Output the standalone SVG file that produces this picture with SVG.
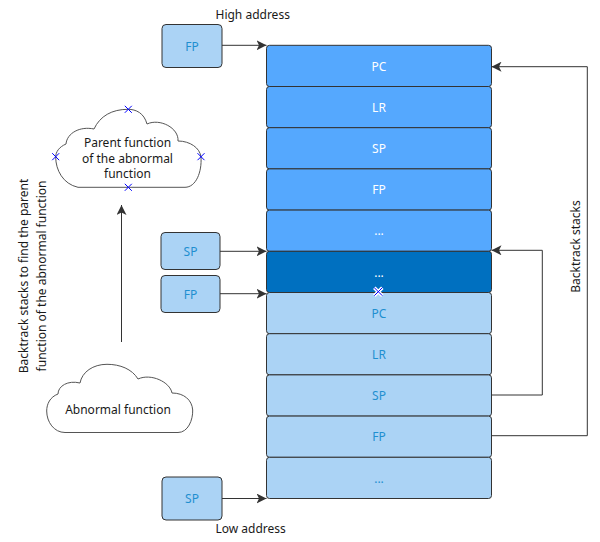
<svg xmlns="http://www.w3.org/2000/svg" width="600" height="542" viewBox="0 0 600 542">
<style>
text{font-family:"Noto Sans","Open Sans","DejaVu Sans",sans-serif;font-size:12px}
.row{stroke:#333;stroke-width:1}
.dk{fill:#55A8FE}
.dd{fill:#0070C0}
.lt{fill:#ABD3F5}
.wt{fill:#fff;text-anchor:middle}
.bt{fill:#1F8FD0;text-anchor:middle}
.ptr{fill:#ABD3F5;stroke:#333;stroke-width:1}
.ln{fill:none;stroke:#333;stroke-width:1}
.cl{fill:#fff;stroke:#555;stroke-width:1}
.tx{fill:#1a1a1a}
.mk{stroke:#0000FF;stroke-width:1;fill:none}
</style>
<defs>
<marker id="ah" viewBox="0 0 10 10" refX="10" refY="5" markerWidth="10" markerHeight="10" markerUnits="userSpaceOnUse" orient="auto">
<path d="M0,0 L10,5 L0,10 L2.5,5 Z" fill="#333"/>
</marker>
</defs>

<text x="215.5" y="18.5" class="tx">High address</text>
<text x="215.5" y="533" class="tx">Low address</text>

<g id="stack">
<g id="row1"><rect class="row dk" x="266.5" y="45.3" width="225" height="41.2" rx="3"/><text class="wt" x="379" y="70.5">PC</text></g>
<g id="row2"><rect class="row dk" x="266.5" y="86.5" width="225" height="41.2" rx="3"/><text class="wt" x="379" y="111.7">LR</text></g>
<g id="row3"><rect class="row dk" x="266.5" y="127.7" width="225" height="41.2" rx="3"/><text class="wt" x="379" y="152.9">SP</text></g>
<g id="row4"><rect class="row dk" x="266.5" y="168.9" width="225" height="41.2" rx="3"/><text class="wt" x="379" y="194.1">FP</text></g>
<g id="row5"><rect class="row dk" x="266.5" y="210.1" width="225" height="41.2" rx="3"/><text class="wt" x="379" y="235.3">...</text></g>
<g id="row6"><rect class="row dd" x="266.5" y="251.3" width="225" height="41.2" rx="3"/><text class="wt" x="379" y="276.5">...</text></g>
<g id="row7"><rect class="row lt" x="266.5" y="292.5" width="225" height="41.2" rx="3"/><text class="bt" x="379" y="317.7">PC</text></g>
<g id="row8"><rect class="row lt" x="266.5" y="333.7" width="225" height="41.2" rx="3"/><text class="bt" x="379" y="358.9">LR</text></g>
<g id="row9"><rect class="row lt" x="266.5" y="374.9" width="225" height="41.2" rx="3"/><text class="bt" x="379" y="400.1">SP</text></g>
<g id="row10"><rect class="row lt" x="266.5" y="416.1" width="225" height="41.2" rx="3"/><text class="bt" x="379" y="441.3">FP</text></g>
<g id="row11"><rect class="row lt" x="266.5" y="457.3" width="225" height="41.2" rx="3"/><text class="bt" x="379" y="482.5">...</text></g>
</g>

<g id="fp-top"><rect class="ptr" x="162" y="24.5" width="60" height="43" rx="4"/><text class="bt" x="192" y="50.5">FP</text></g>
<g id="sp-mid"><rect class="ptr" x="161" y="232.5" width="59" height="37" rx="4"/><text class="bt" x="190.5" y="255.5">SP</text></g>
<g id="fp-mid"><rect class="ptr" x="161" y="275.5" width="59" height="37" rx="4"/><text class="bt" x="190.5" y="298.5">FP</text></g>
<g id="sp-bot"><rect class="ptr" x="162" y="477" width="60" height="43" rx="4"/><text class="bt" x="192" y="503">SP</text></g>

<g id="parent-cloud">
<path class="cl" d="M78 187.3 L185 187.3 C196 187.3 202 172 201 157 C200 148 190 141 178 141 C179 128 160 118 147 124 C144 113 136 109.3 128 109.3 C112 109.3 100 116 94 129 C80 126 67 133 66 144 C59 147 55.7 152 55.7 157 C55.7 170 63 184 78 187.3 Z"/>
<text class="tx" text-anchor="middle" x="127.5" y="146.5">Parent function</text>
<text class="tx" text-anchor="middle" x="127.5" y="162.5">of the abnormal</text>
<text class="tx" text-anchor="middle" x="127.5" y="178">function</text>
</g>

<g id="abnormal-cloud">
<path class="cl" d="M65 432.5 L178 432.5 C188 432.5 193 420 192.7 410 C192 400 184 393 172 393 C170 382 151 373 138 379 C132 369 120 364.3 107 364.3 C93 364.3 82 372 80 383 C68 380 58 386 58 394 C50 397 46.7 404 46.7 411 C46.7 422 54 432.5 65 432.5 Z"/>
<text class="tx" text-anchor="middle" x="118" y="414">Abnormal function</text>
</g>

<g id="connectors">
<line class="ln" x1="222" y1="45.3" x2="266.5" y2="45.3" marker-end="url(#ah)"/>
<line class="ln" x1="220" y1="251.3" x2="266.5" y2="251.3" marker-end="url(#ah)"/>
<line class="ln" x1="220" y1="293.7" x2="266.5" y2="293.7" marker-end="url(#ah)"/>
<line class="ln" x1="222" y1="498.5" x2="266.5" y2="498.5" marker-end="url(#ah)"/>
<polyline class="ln" points="491.5,395 542.3,395 542.3,250.3 491.5,250.3" marker-end="url(#ah)"/>
<polyline class="ln" points="491.5,435.7 587.3,435.7 587.3,66.7 491.5,66.7" marker-end="url(#ah)"/>
<line class="ln" x1="121.5" y1="342" x2="121.5" y2="205" marker-end="url(#ah)"/>
</g>

<text class="tx" text-anchor="middle" transform="translate(580,246.5) rotate(-90)">Backtrack stacks</text>
<text class="tx" text-anchor="middle" transform="translate(28,276) rotate(-90)">Backtrack stacks to find the parent</text>
<text class="tx" text-anchor="middle" transform="translate(45.5,276) rotate(-90)">function of the abnormal function</text>

<g id="markers">
<path class="mk" d="M124.8 105.8 L131.8 112.8 M131.8 105.8 L124.8 112.8"/>
<path class="mk" d="M52.2 153.2 L59.2 160.2 M59.2 153.2 L52.2 160.2"/>
<path class="mk" d="M197.5 153.2 L204.5 160.2 M204.5 153.2 L197.5 160.2"/>
<path class="mk" d="M124.8 183.8 L131.8 190.8 M131.8 183.8 L124.8 190.8"/>
<path d="M374.3 287.7 L382.3 295.7 M382.3 287.7 L374.3 295.7" stroke="#fff" stroke-width="3.5" fill="none"/>
<path class="mk" d="M374.3 287.7 L382.3 295.7 M382.3 287.7 L374.3 295.7" stroke-width="1.3"/>
</g>
</svg>
